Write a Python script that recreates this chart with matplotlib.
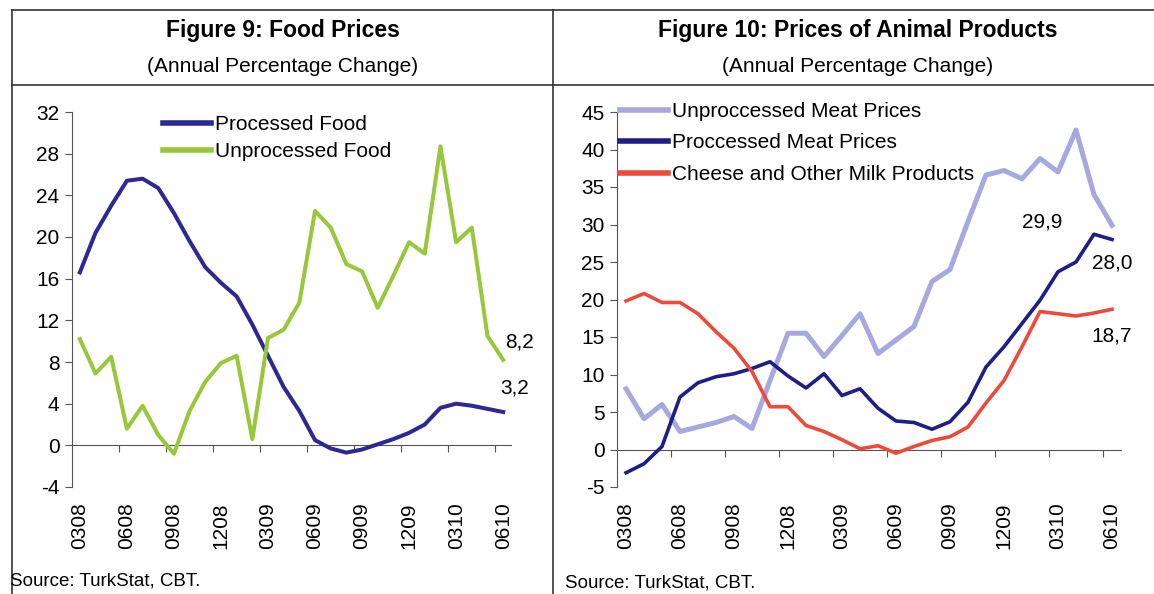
import matplotlib.pyplot as plt
from matplotlib.lines import Line2D
import numpy as np

plt.rcParams['font.family'] = ['Liberation Sans', 'DejaVu Sans']
plt.rcParams['axes.unicode_minus'] = False

# monthly data, 03.2008 - 06.2010
tick_labels = ['0308', '0608', '0908', '1208', '0309', '0609', '0909', '1209', '0310', '0610']

processed_food = [16.6, 20.4, 23.0, 25.4, 25.6, 24.7, 22.3, 19.6, 17.1, 15.6, 14.3, 11.6, 8.6, 5.6,
                  3.3, 0.5, -0.3, -0.7, -0.4, 0.1, 0.6, 1.2, 2.0, 3.6, 4.0, 3.8, 3.5, 3.2]
unprocessed_food = [10.2, 6.9, 8.5, 1.6, 3.8, 1.0, -0.8, 3.3, 6.1, 7.9, 8.6, 0.6, 10.3, 11.1,
                    13.7, 22.5, 20.9, 17.4, 16.7, 13.2, 16.3, 19.5, 18.4, 28.7, 19.5, 20.9, 10.5, 8.2]

unproc_meat = [8.1, 4.1, 6.0, 2.4, 3.0, 3.6, 4.4, 2.8, 9.2, 15.5, 15.5, 12.4, 15.2, 18.1,
               12.8, 14.6, 16.4, 22.4, 24.0, 30.4, 36.6, 37.2, 36.1, 38.8, 37.0, 42.6, 34.0, 29.9]
proc_meat = [-3.1, -1.9, 0.4, 7.0, 8.9, 9.7, 10.1, 10.8, 11.7, 9.8, 8.2, 10.1, 7.2, 8.1,
             5.5, 3.8, 3.6, 2.7, 3.7, 6.3, 11.0, 13.7, 16.8, 19.9, 23.7, 25.0, 28.7, 28.0]
cheese = [19.8, 20.8, 19.6, 19.6, 18.1, 15.7, 13.5, 10.4, 5.7, 5.7, 3.2, 2.4, 1.3, 0.1,
          0.5, -0.5, 0.4, 1.2, 1.7, 3.0, 6.2, 9.2, 13.7, 18.4, 18.1, 17.8, 18.2, 18.7]

W, H = 1154, 594
fig = plt.figure(figsize=(W / 100, H / 100), dpi=100)


def fx(px):
    return px / W


def fy(py):
    return 1 - py / H


def hline(y, x0, x1):
    fig.add_artist(Line2D([fx(x0), fx(x1)], [fy(y), fy(y)], color='#333333', lw=1.2))


def vline(x, y0, y1):
    fig.add_artist(Line2D([fx(x), fx(x)], [fy(y0), fy(y1)], color='#333333', lw=1.2))


# panel frames
hline(10, 12, 1154)
hline(85, 12, 1154)
vline(12, 10, 594)
vline(553, 10, 594)


def setup_axis(ax, ymin, ymax, ystep):
    n = len(processed_food)
    ax.set_xlim(-0.5, n - 0.5)
    ax.set_ylim(ymin, ymax)
    ax.set_yticks(np.arange(ymin, ymax + 1, ystep))
    ax.set_xticks(np.arange(0, n, 3), tick_labels, rotation=90)
    for s in ['top', 'right', 'bottom']:
        ax.spines[s].set_visible(False)
    ax.spines['left'].set_color('#555555')
    ax.tick_params(axis='y', length=5, color='#555555', labelsize=15, pad=4)
    ax.tick_params(axis='x', length=0, labelsize=15, pad=11)
    # zero line with tick marks between categories
    sec = ax.secondary_xaxis(-ymin / (ymax - ymin))
    sec.set_xticks(np.arange(2.5, n - 0.5, 3))
    sec.xaxis.set_ticks_position('bottom')
    sec.tick_params(axis='x', length=5, color='#555555', labelbottom=False, labeltop=False)
    for s in ['top', 'left', 'right']:
        sec.spines[s].set_visible(False)
    sec.spines['bottom'].set_color('#555555')


x = np.arange(len(processed_food))

# Figure 9
ax1 = fig.add_axes([fx(72), fy(487), fx(511) - fx(72), fy(112) - fy(487)])
setup_axis(ax1, -4, 32, 4)
ax1.plot(x, processed_food, color='#2E2892', lw=2.9, label='Processed Food', clip_on=False)
ax1.plot(x, unprocessed_food, color='#98C83A', lw=2.9, label='Unprocessed Food', clip_on=False)
ax1.legend(loc='upper left', bbox_to_anchor=(fx(163), fy(115)), bbox_transform=fig.transFigure,
           frameon=False, fontsize=15, handlelength=2.3, handletextpad=0.2,
           labelspacing=0.4, borderpad=0, borderaxespad=0)
for lh in ax1.get_legend().get_lines():
    lh.set_linewidth(4)
ax1.annotate('8,2', (x[-1], unprocessed_food[-1]), xytext=(12, 13), textcoords='offset points',
             ha='center', va='center', fontsize=15)
ax1.annotate('3,2', (x[-1], processed_food[-1]), xytext=(8, 17), textcoords='offset points',
             ha='center', va='center', fontsize=15)

fig.text(fx(283), fy(31), 'Figure 9: Food Prices', ha='center', va='center',
         fontsize=16.5, fontweight='bold')
fig.text(fx(283), fy(66), '(Annual Percentage Change)', ha='center', va='center', fontsize=15)
fig.text(fx(10), fy(581), 'Source: TurkStat, CBT.', ha='left', va='center', fontsize=13.5)

# Figure 10
ax2 = fig.add_axes([fx(617), fy(487), fx(1121) - fx(617), fy(112) - fy(487)])
setup_axis(ax2, -5, 45, 5)
ax2.plot(x, unproc_meat, color='#A8A8DE', lw=3.6, label='Unproccessed Meat Prices', clip_on=False)
ax2.plot(x, proc_meat, color='#1F1D86', lw=2.6, label='Proccessed Meat Prices', clip_on=False)
ax2.plot(x, cheese, color='#EE4A3C', lw=2.6, label='Cheese and Other Milk Products', clip_on=False)
ax2.legend(loc='upper left', bbox_to_anchor=(fx(620), fy(102)), bbox_transform=fig.transFigure,
           frameon=False, fontsize=15, handlelength=2.3, handletextpad=0.2,
           labelspacing=0.6, borderpad=0, borderaxespad=0)
for lh in ax2.get_legend().get_lines():
    lh.set_linewidth(4)
ax2.annotate('29,9', (x[-1], unproc_meat[-1]), xytext=(-50, 2), textcoords='offset points',
             ha='center', va='center', fontsize=15)
ax2.annotate('28,0', (x[-1], proc_meat[-1]), xytext=(0, -17), textcoords='offset points',
             ha='center', va='center', fontsize=15)
ax2.annotate('18,7', (x[-1], cheese[-1]), xytext=(0, -19), textcoords='offset points',
             ha='center', va='center', fontsize=15)

fig.text(fx(858), fy(31), 'Figure 10: Prices of Animal Products', ha='center', va='center',
         fontsize=16.5, fontweight='bold')
fig.text(fx(858), fy(66), '(Annual Percentage Change)', ha='center', va='center', fontsize=15)
fig.text(fx(565), fy(583), 'Source: TurkStat, CBT.', ha='left', va='center', fontsize=13.5)

fig.savefig('out.png', dpi=100)
